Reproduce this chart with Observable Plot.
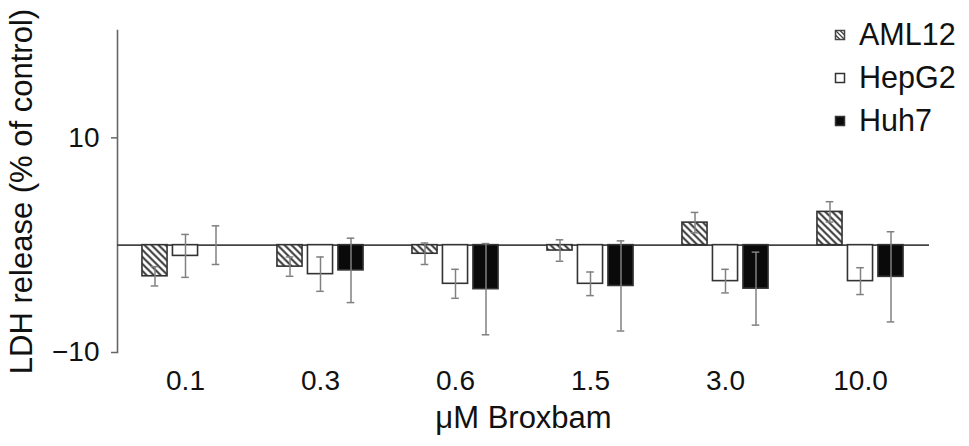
<!DOCTYPE html>
<html>
<head>
<meta charset="utf-8">
<script src="https://cdn.jsdelivr.net/npm/d3@7"></script>
<script src="https://cdn.jsdelivr.net/npm/@observablehq/plot@0.6"></script>
<style>
  html, body { margin: 0; padding: 0; background: #fff; }
  #wrap { position: relative; width: 969px; height: 446px; font-family: "Liberation Sans", Arial, Helvetica, sans-serif; }
  #legend { position: absolute; left: 0; top: 0; pointer-events: none; }
</style>
</head>
<body>
<div id="wrap"></div>
<script>
// ---- data ----
const doses = ["0.1", "0.3", "0.6", "1.5", "3.0", "10.0"];
const cells = ["AML12", "HepG2", "Huh7"];
const aml12 = [-2.9, -2.0, -0.8, -0.5, 2.1, 3.1];
const aml12Err = [0.9, 0.9, 1.0, 1.0, 0.95, 0.95];
const hepg2 = [-1.0, -2.7, -3.6, -3.6, -3.35, -3.35];
const hepg2Err = [2.0, 1.6, 1.35, 1.1, 1.1, 1.25];
const huh7 = [0.0, -2.35, -4.1, -3.8, -4.05, -2.95];
const huh7Err = [1.8, 3.0, 4.25, 4.2, 3.4, 4.2];
const yTicks = [-10, 10];

const series = {AML12: [aml12, aml12Err], HepG2: [hepg2, hepg2Err], Huh7: [huh7, huh7Err]};
const rows = cells.flatMap(c => doses.map((d, i) => ({cell: c, dose: d, value: series[c][0][i], err: series[c][1][i]})));

const font = '"Liberation Sans", Arial, Helvetica, sans-serif';
const textColor = "#111";
const style = {
  AML12: {fill: "url(#hatch)", dx: -30.5},
  HepG2: {fill: "#ffffff", dx: 0},
  Huh7: {fill: "#0a0a0a", dx: 30.5}
};
const barInset = 35.45;
const capInset = 44.2;
const errColor = "#808080";

const marks = [
  Plot.frame({anchor: "left", stroke: "#666", strokeWidth: 1.6}),
  Plot.ruleY([0], {stroke: "#444", strokeWidth: 1.6})
];
for (const c of cells) {
  const data = rows.filter(r => r.cell === c);
  const s = style[c];
  marks.push(Plot.barY(data, {x: "dose", y: "value", dx: s.dx, insetLeft: barInset, insetRight: barInset, fill: s.fill, stroke: "#333", strokeWidth: 1.6}));
}
for (const c of cells) {
  const data = rows.filter(r => r.cell === c);
  const s = style[c];
  marks.push(Plot.ruleX(data, {x: "dose", y1: d => d.value - d.err, y2: d => d.value + d.err, dx: s.dx, stroke: errColor, strokeWidth: 1.5}));
  marks.push(Plot.tickY(data, {x: "dose", y: d => d.value - d.err, dx: s.dx, insetLeft: capInset, insetRight: capInset, stroke: errColor, strokeWidth: 1.5}));
  marks.push(Plot.tickY(data, {x: "dose", y: d => d.value + d.err, dx: s.dx, insetLeft: capInset, insetRight: capInset, stroke: errColor, strokeWidth: 1.5}));
}
marks.push(Plot.axisY({ticks: yTicks, tickSize: 6, tickPadding: 12, stroke: "#666", strokeWidth: 1.5, fill: textColor, fontSize: 28, label: null}));
marks.push(Plot.axisY({ticks: [], tickSize: 0, label: "LDH release (% of control)", labelAnchor: "center", labelOffset: 108, labelArrow: "none", fontSize: 31, fill: textColor}));
marks.push(Plot.axisX({tickSize: 0, tickPadding: 18, fill: textColor, fontSize: 28, label: null}));
marks.push(Plot.axisX({ticks: [], tickSize: 0, label: "μM Broxbam", labelAnchor: "center", labelOffset: 75, labelArrow: "none", fontSize: 31, fill: textColor}));

const svg = Plot.plot({
  width: 969, height: 446,
  marginLeft: 117, marginRight: 40, marginTop: 30, marginBottom: 94,
  style: {fontFamily: font, fontSize: "28px", color: textColor, background: "#fff", overflow: "visible"},
  x: {domain: doses, paddingInner: 0.287, paddingOuter: 0.146, label: null, axis: null},
  y: {domain: [-10, 20], label: null, axis: null},
  marks
});

const defs = d3.select(svg).insert("defs", ":first-child");
const pat = defs.append("pattern").attr("id", "hatch").attr("patternUnits", "userSpaceOnUse")
  .attr("width", 7).attr("height", 7);
pat.append("rect").attr("width", 7).attr("height", 7).attr("fill", "#fff");
pat.append("path").attr("d", "M0,0 L7,7 M-2,5 L2,9 M5,-2 L9,2").attr("stroke", "#3a3a3a").attr("stroke-width", 2);

const wrap = document.getElementById("wrap");
wrap.appendChild(svg);

// ---- legend ----
const lg = d3.select(wrap).append("svg").attr("id", "legend").attr("width", 969).attr("height", 446);
const lrows = [{k: "AML12", y: 35}, {k: "HepG2", y: 78}, {k: "Huh7", y: 121}];
for (const r of lrows) {
  const g = lg.append("g");
  if (r.k === "AML12") {
    g.append("rect").attr("x", 835.5).attr("y", r.y - 4.5).attr("width", 9).attr("height", 9).attr("fill", "#fff").attr("stroke", "#444").attr("stroke-width", 1.5);
    g.append("path").attr("d", `M835.5,${r.y - 4.5} L844.5,${r.y + 4.5} M835.5,${r.y} L840,${r.y + 4.5} M840,${r.y - 4.5} L844.5,${r.y}`).attr("stroke", "#444").attr("stroke-width", 1.3);
  } else {
    g.append("rect").attr("x", 835.5).attr("y", r.y - 4.5).attr("width", 9).attr("height", 9)
      .attr("fill", r.k === "Huh7" ? "#0a0a0a" : "#fff").attr("stroke", "#333").attr("stroke-width", 1.5);
  }
  g.append("text").attr("x", 859).attr("y", r.y + 10).attr("font-family", font).attr("font-size", 30.5).attr("fill", textColor).text(r.k);
}
</script>
</body>
</html>
